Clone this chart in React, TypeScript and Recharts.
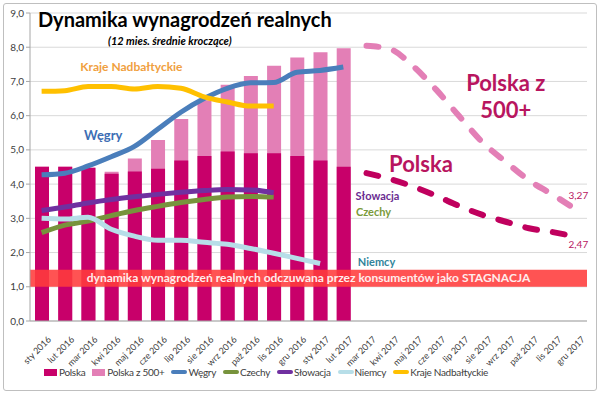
import {
  ComposedChart,
  Bar,
  Line,
  XAxis,
  YAxis,
  CartesianGrid,
  Legend,
  ReferenceArea,
  ReferenceDot,
} from "recharts";

const months = [
  "sty 2016", "lut 2016", "mar 2016", "kwi 2016", "maj 2016", "cze 2016",
  "lip 2016", "sie 2016", "wrz 2016", "paź 2016", "lis 2016", "gru 2016",
  "sty 2017", "lut 2017", "mar 2017", "kwi 2017", "maj 2017", "cze 2017",
  "lip 2017", "sie 2017", "wrz 2017", "paź 2017", "lis 2017", "gru 2017",
];

const polska = [4.51, 4.51, 4.48, 4.3, 4.37, 4.45, 4.69, 4.82, 4.95, 4.9, 4.9, 4.82, 4.69, 4.51];
const polska500 = [4.51, 4.51, 4.48, 4.36, 4.75, 5.29, 5.9, 6.45, 6.9, 7.16, 7.46, 7.7, 7.85, 7.97];
const wegry = [4.27, 4.32, 4.53, 4.8, 5.1, 5.6, 6.1, 6.5, 6.8, 6.96, 6.97, 7.27, 7.32, 7.42];
const czechy = [2.58, 2.8, 2.92, 3.08, 3.23, 3.35, 3.46, 3.55, 3.62, 3.64, 3.62];
const slowacja = [3.23, 3.33, 3.45, 3.55, 3.63, 3.7, 3.76, 3.81, 3.84, 3.83, 3.75];
const niemcy = [3.0, 2.98, 3.03, 2.68, 2.48, 2.36, 2.36, 2.3, 2.24, 2.12, 1.98, 1.83, 1.68];
const baltyckie = [6.71, 6.73, 6.85, 6.85, 6.78, 6.85, 6.8, 6.55, 6.4, 6.28, 6.28];
// prognoza od mar 2017
const prognoza500 = [8.04, 7.95, 7.45, 6.76, 5.98, 5.22, 4.65, 4.11, 3.7, 3.27];
const prognozaPolska = [4.32, 4.15, 3.93, 3.66, 3.36, 3.1, 2.9, 2.71, 2.6, 2.47];
const forecastStart = 14;

const yTicks = [0, 1, 2, 3, 4, 5, 6, 7, 8, 9];

const data = months.map((month, i) => ({
  month,
  polska: polska[i] ?? null,
  polska500: polska500[i] ?? null,
  wegry: wegry[i] ?? null,
  czechy: czechy[i] ?? null,
  slowacja: slowacja[i] ?? null,
  niemcy: niemcy[i] ?? null,
  baltyckie: baltyckie[i] ?? null,
  prog500: i >= forecastStart ? prognoza500[i - forecastStart] : null,
  progPolska: i >= forecastStart ? prognozaPolska[i - forecastStart] : null,
}));

const FONT = "Lato, 'Open Sans', sans-serif";

const notes = [
  { text: "Kraje Nadbałtyckie", x: "maj 2016", y: 7.45, dx: -3, color: "#f0a040", size: 12 },
  { text: "Węgry", x: "kwi 2016", y: 5.44, dx: -8, color: "#3d6eb4", size: 13 },
  { text: "Słowacja", x: "mar 2017", y: 3.68, dx: 11, color: "#6a2c91", size: 11 },
  { text: "Czechy", x: "mar 2017", y: 3.19, dx: 7, color: "#7a9a3a", size: 11 },
  { text: "Niemcy", x: "mar 2017", y: 1.75, dx: 10, color: "#31849b", size: 11 },
  { text: "Polska z", x: "wrz 2017", y: 6.96, dx: 0, color: "#b8155f", size: 22 },
  { text: "500+", x: "wrz 2017", y: 6.17, dx: 0, color: "#b8155f", size: 22 },
  { text: "Polska", x: "maj 2017", y: 4.59, dx: 8, color: "#b8155f", size: 22 },
  { text: "3,27", x: "gru 2017", y: 3.68, dx: 3, color: "#b8155f", size: 10, normal: true },
  { text: "2,47", x: "gru 2017", y: 2.25, dx: 3, color: "#b8155f", size: 10, normal: true },
];

const legendOrder = ["Polska", "Polska z 500+", "Węgry", "Czechy", "Słowacja", "Niemcy", "Kraje Nadbałtyckie"];

function MonthTick({ x, y, payload }: any) {
  const tx = x + 5;
  const ty = y + 6;
  return (
    <text
      x={tx}
      y={ty}
      textAnchor="end"
      dominantBaseline="hanging"
      transform={`rotate(-45 ${tx} ${ty})`}
      fontSize={9}
      fill="#404040"
      fontFamily={FONT}
    >
      {payload.value}
    </text>
  );
}

function LegendContent(props: any) {
  const items = (props.payload || [])
    .filter((p: any) => legendOrder.includes(p.value))
    .sort((a: any, b: any) => legendOrder.indexOf(a.value) - legendOrder.indexOf(b.value));
  return (
    <div style={{ display: "flex", alignItems: "center", paddingLeft: 42, gap: 7, fontSize: 10, letterSpacing: -0.3, color: "#404040", fontFamily: FONT }}>
      {items.map((p: any) => (
        <div key={p.value} style={{ display: "flex", alignItems: "center" }}>
          {p.type === "rect" ? (
            <span style={{ width: 13, height: 7, background: p.color, marginRight: 2 }} />
          ) : (
            <span style={{ width: 16, height: 4, borderRadius: 2, background: p.color, marginRight: 1 }} />
          )}
          <span>{p.value}</span>
        </div>
      ))}
    </div>
  );
}

export default function App() {
  return (
    <div style={{ position: "absolute", left: 0, top: 0, width: 600, height: 394, background: "#fff", fontFamily: FONT }}>
      <div style={{ position: "absolute", left: 3, top: 3, width: 592, height: 386, border: "1px solid #bfbfbf", borderRadius: 3 }} />
      <ComposedChart
        width={600}
        height={394}
        data={data}
        margin={{ top: 13, right: 13, left: 2, bottom: 6 }}
      >
        <CartesianGrid vertical={false} stroke="#d9d9d9" xAxisId="main" />
        <XAxis
          xAxisId="main"
          dataKey="month"
          interval={0}
          height={45}
          tick={<MonthTick />}
          tickLine={false}
          stroke="#a6a6a6"
        />
        <XAxis xAxisId="back" dataKey="month" hide height={0} />
        <YAxis
          width={28}
          domain={[0, 9]}
          ticks={yTicks}
          interval={0}
          tickFormatter={(v) => v.toFixed(1).replace(".", ",")}
          tick={{ fontSize: 10, fill: "#404040", fontFamily: FONT }}
          stroke="#a6a6a6"
          tickSize={4}
        />
        <Legend verticalAlign="bottom" height={22} content={LegendContent} />
        <Bar xAxisId="back" dataKey="polska500" name="Polska z 500+" fill="#e37fb6" barSize={14} isAnimationActive={false} legendType="rect" />
        <Bar xAxisId="main" dataKey="polska" name="Polska" fill="#c8006a" barSize={14} isAnimationActive={false} legendType="rect" />
        <ReferenceArea
          xAxisId="main"
          y1={1}
          y2={1.5}
          fill="#ff3b3b"
          fillOpacity={0.88}
          stroke="none"
          zIndex={350}
          label={{
            value: "dynamika wynagrodzeń  realnych  odczuwana  przez konsumentów  jako STAGNACJA",
            position: "center",
            fill: "#ffecec",
            fontSize: 12,
            fontWeight: 700,
            fontFamily: FONT,
          }}
        />
        <Line xAxisId="main" type="monotone" dataKey="wegry" name="Węgry" stroke="#4a7ebb" strokeWidth={5} dot={false} isAnimationActive={false} />
        <Line xAxisId="main" type="monotone" dataKey="czechy" name="Czechy" stroke="#77933c" strokeWidth={5} dot={false} isAnimationActive={false} />
        <Line xAxisId="main" type="monotone" dataKey="slowacja" name="Słowacja" stroke="#7030a0" strokeWidth={5} dot={false} isAnimationActive={false} />
        <Line xAxisId="main" type="monotone" dataKey="niemcy" name="Niemcy" stroke="#b7dee8" strokeWidth={5} dot={false} isAnimationActive={false} />
        <Line xAxisId="main" type="monotone" dataKey="baltyckie" name="Kraje Nadbałtyckie" stroke="#ffc000" strokeWidth={5} dot={false} isAnimationActive={false} />
        <Line xAxisId="main" type="monotone" dataKey="prog500" name="prognoza 500+" stroke="#e37fb6" strokeWidth={6} strokeDasharray="12 16" strokeLinecap="round" dot={false} legendType="none" isAnimationActive={false} />
        <Line xAxisId="main" type="monotone" dataKey="progPolska" name="prognoza Polska" stroke="#c0005e" strokeWidth={6} strokeDasharray="12 16" strokeLinecap="round" dot={false} legendType="none" isAnimationActive={false} />
        {notes.map((n) => (
          <ReferenceDot
            key={n.text}
            xAxisId="main"
            x={n.x}
            y={n.y}
            r={0}
            zIndex={2000}
            shape={(p: any) => (
              <text
                x={p.cx + n.dx}
                y={p.cy}
                textAnchor="middle"
                dominantBaseline="central"
                fill={n.color}
                fontSize={n.size}
                fontWeight={n.normal ? 400 : 700}
                fontFamily={FONT}
              >
                {n.text}
              </text>
            )}
          />
        ))}
      </ComposedChart>
      <div style={{ position: "absolute", left: 38, top: 7, fontSize: 20, fontWeight: 700, color: "#000", whiteSpace: "nowrap" }}>
        Dynamika wynagrodzeń realnych
      </div>
      <div style={{ position: "absolute", left: 108, top: 34, fontSize: 11, fontWeight: 700, fontStyle: "italic", color: "#000", whiteSpace: "nowrap" }}>
        (12 mies. średnie kroczące)
      </div>
    </div>
  );
}
